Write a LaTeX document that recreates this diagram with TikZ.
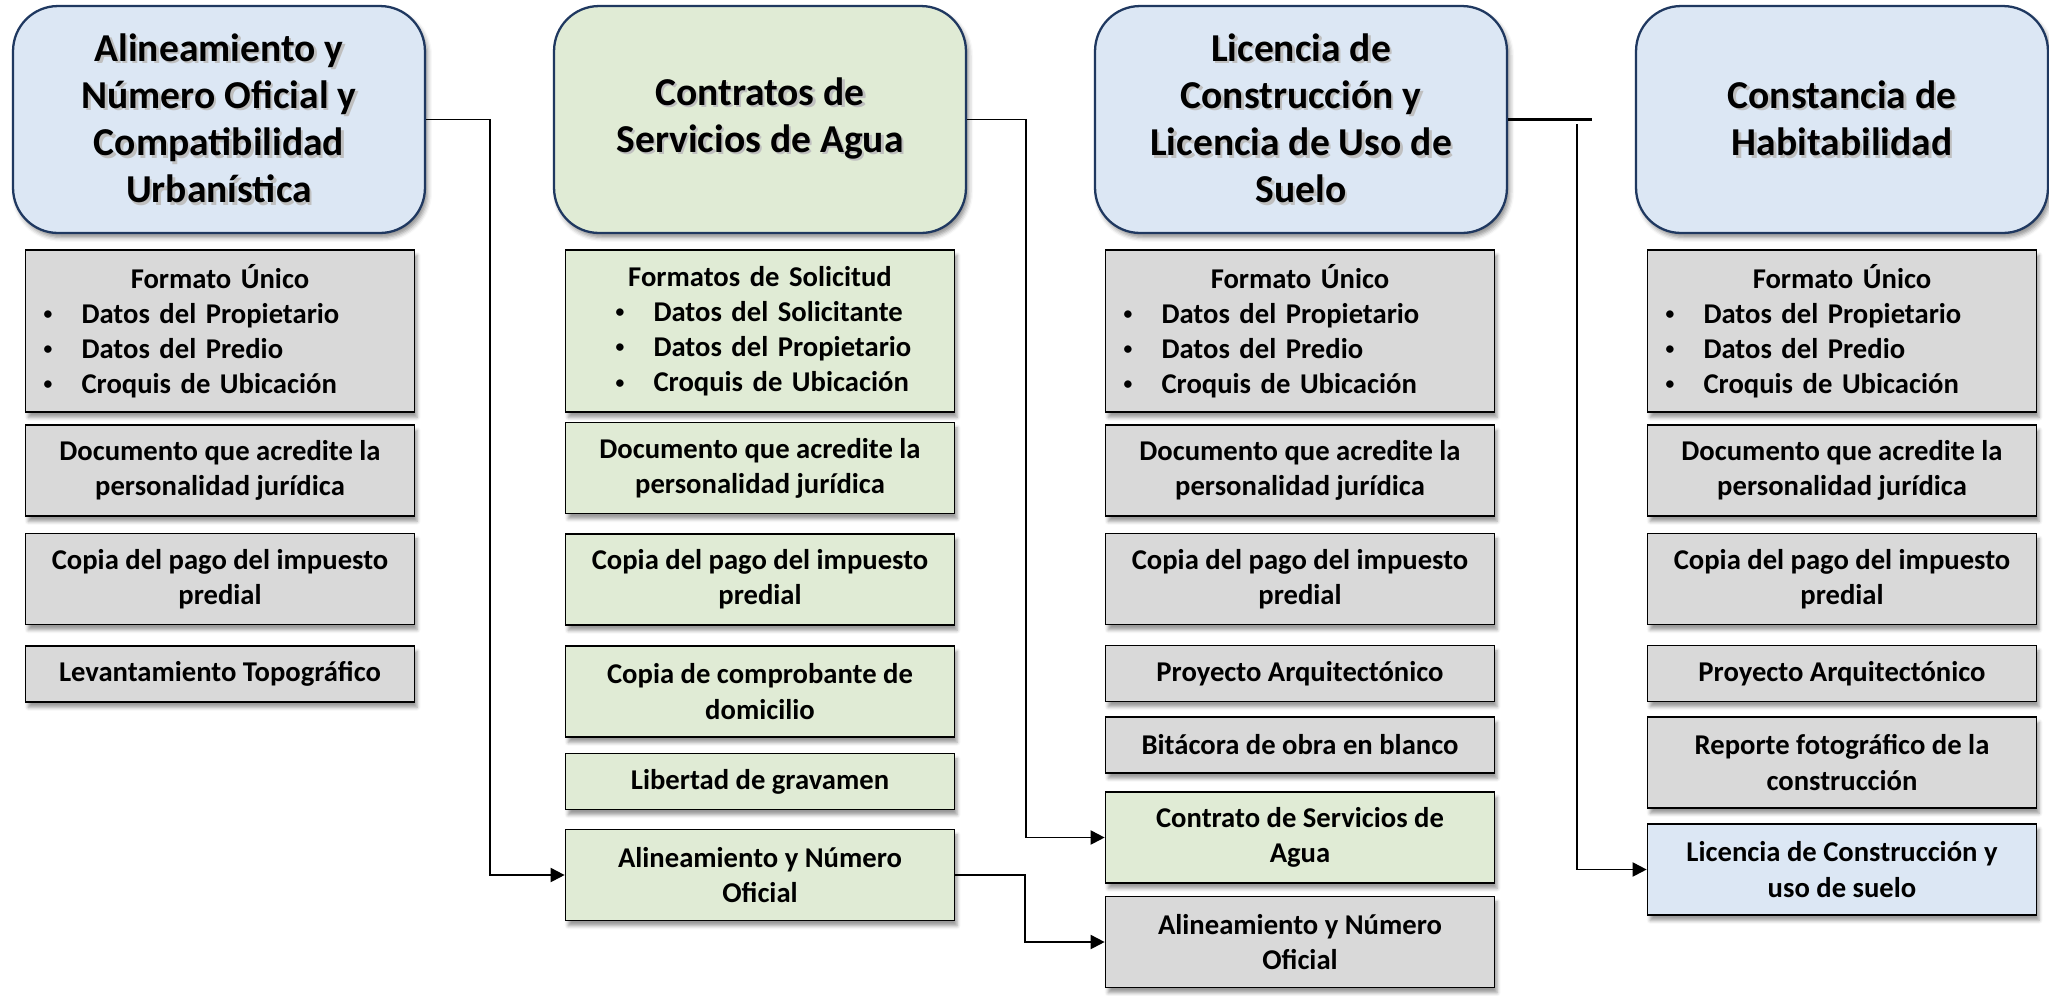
\documentclass[tikz,border=0pt]{standalone}
\usepackage{fontspec}
\setmainfont{Carlito}
\usepackage{xcolor}
\definecolor{navy-800}{RGB}{31,56,96}
\definecolor{blue-100}{RGB}{220,231,244}
\definecolor{green-100}{RGB}{224,235,213}
\definecolor{gray-300}{RGB}{217,217,217}
\usepackage{tikz}
\usetikzlibrary{shadows.blur,positioning,arrows.meta}

\newcommand{\headfont}{\fontsize{22.5}{26.8}\selectfont\bfseries}
\newcommand{\docfont}{\fontsize{16.3}{20}\selectfont\bfseries}
\newcommand{\glow}[1]{\makebox[0pt][l]{\hspace{1.4pt}\raisebox{-1.4pt}{\textcolor{black!25}{#1}}}#1}
\newcommand{\bitem}[2][0cm]{\hspace*{#1}\makebox[0.76cm][l]{\raisebox{2pt}{\fontsize{10}{10}\selectfont\textbullet}}#2}

\begin{document}
\begin{tikzpicture}[
    x=0.02cm, y=-0.02cm,
    proc box/.style={rounded corners=0.9cm, draw=navy-800, line width=1.3pt, fill=#1, minimum width=8.24cm, minimum height=4.54cm, align=center, font=\headfont, blur shadow={shadow xshift=1.5pt, shadow yshift=-2.5pt, shadow blur radius=2.5pt, shadow opacity=45}},
    doc box/.style={draw=black, line width=1pt, fill=#1, minimum width=7.78cm, minimum height=1.12cm, inner sep=0pt, align=center, font=\docfont, blur shadow={shadow xshift=1.5pt, shadow yshift=-3pt, shadow blur radius=2pt, shadow opacity=40}},
    two lines/.style={minimum height=1.82cm},
    list box/.style={doc box=#1, minimum height=3.24cm, text width=7.06cm, align=left, inner xsep=0.36cm},
    link/.style={-{Triangle[length=8pt, width=8pt]}, line width=1.1pt}
]
\useasboundingbox (0,0) rectangle (2049,995);

% Column 1 - Alineamiento y Numero Oficial
\node[proc box=blue-100] (proc1) at (219,119.5) {\glow{Alineamiento y}\\\glow{Número Oficial y}\\\glow{Compatibilidad}\\\glow{Urbanística}};
\node[list box=gray-300] (doc1a) at (220,331) {\makebox[\hsize]{Formato Único}\\\bitem{Datos del Propietario}\\\bitem{Datos del Predio}\\\bitem{Croquis de Ubicación}};
\node[doc box=gray-300, two lines] (doc1b) at (220,470.5) {Documento que acredite la\\personalidad jurídica};
\node[doc box=gray-300, two lines] (doc1c) at (220,579) {Copia del pago del impuesto\\predial};
\node[doc box=gray-300] (doc1d) at (220,674) {Levantamiento Topográfico};

% Column 2 - Contratos de Servicios de Agua
\node[proc box=green-100] (proc2) at (760,119.5) {\glow{Contratos de}\\\glow{Servicios de Agua}};
\node[list box=green-100] (doc2a) at (760,331) {\makebox[\hsize]{Formatos de Solicitud}\\\bitem[0.64cm]{Datos del Solicitante}\\\bitem[0.64cm]{Datos del Propietario}\\\bitem[0.64cm]{Croquis de Ubicación}};
\node[doc box=green-100, two lines] (doc2b) at (760,468) {Documento que acredite la\\personalidad jurídica};
\node[doc box=green-100, two lines] (doc2c) at (760,579.5) {Copia del pago del impuesto\\predial};
\node[doc box=green-100, two lines] (doc2d) at (760,691.5) {Copia de comprobante de\\domicilio};
\node[doc box=green-100] (doc2e) at (760,781.5) {Libertad de gravamen};
\node[doc box=green-100, two lines] (doc2f) at (760,875) {Alineamiento y Número\\Oficial};

% Column 3 - Licencia de Construccion
\node[proc box=blue-100] (proc3) at (1301,119.5) {\glow{Licencia de}\\\glow{Construcción y}\\\glow{Licencia de Uso de}\\\glow{Suelo}};
\node[list box=gray-300] (doc3a) at (1300,331) {\makebox[\hsize]{Formato Único}\\\bitem{Datos del Propietario}\\\bitem{Datos del Predio}\\\bitem{Croquis de Ubicación}};
\node[doc box=gray-300, two lines] (doc3b) at (1300,470.5) {Documento que acredite la\\personalidad jurídica};
\node[doc box=gray-300, two lines] (doc3c) at (1300,579) {Copia del pago del impuesto\\predial};
\node[doc box=gray-300] (doc3d) at (1300,673.5) {Proyecto Arquitectónico};
\node[doc box=gray-300] (doc3e) at (1300,745) {Bitácora de obra en blanco};
\node[doc box=green-100, two lines] (doc3f) at (1300,837.5) {Contrato de Servicios de\\Agua};
\node[doc box=gray-300, two lines] (doc3g) at (1300,942) {Alineamiento y Número\\Oficial};

% Column 4 - Constancia de Habitabilidad
\node[proc box=blue-100] (proc4) at (1842,119.5) {\glow{Constancia de}\\\glow{Habitabilidad}};
\node[list box=gray-300] (doc4a) at (1842,331) {\makebox[\hsize]{Formato Único}\\\bitem{Datos del Propietario}\\\bitem{Datos del Predio}\\\bitem{Croquis de Ubicación}};
\node[doc box=gray-300, two lines] (doc4b) at (1842,470.5) {Documento que acredite la\\personalidad jurídica};
\node[doc box=gray-300, two lines] (doc4c) at (1842,579) {Copia del pago del impuesto\\predial};
\node[doc box=gray-300] (doc4d) at (1842,673.5) {Proyecto Arquitectónico};
\node[doc box=gray-300, two lines] (doc4e) at (1842,762.5) {Reporte fotográfico de la\\construcción};
\node[doc box=blue-100, two lines] (doc4f) at (1842,869.5) {Licencia de Construcción y\\uso de suelo};

% Connectors
\draw[link] (proc1.east) -- ++(64,0) |- (doc2f.west);
\draw[link] (proc2.east) -- ++(59,0) |- (doc3f.west);
\draw[link] (doc2f.east) -- ++(70,0) |- (doc3g.west);
\coordinate (stub3) at (1592,119.5);
\coordinate (drop3) at (1577,124);
\draw[line width=1.3pt] (proc3.east) -- (stub3);
\draw[link] (drop3) |- (doc4f.west);

\end{tikzpicture}
\end{document}
